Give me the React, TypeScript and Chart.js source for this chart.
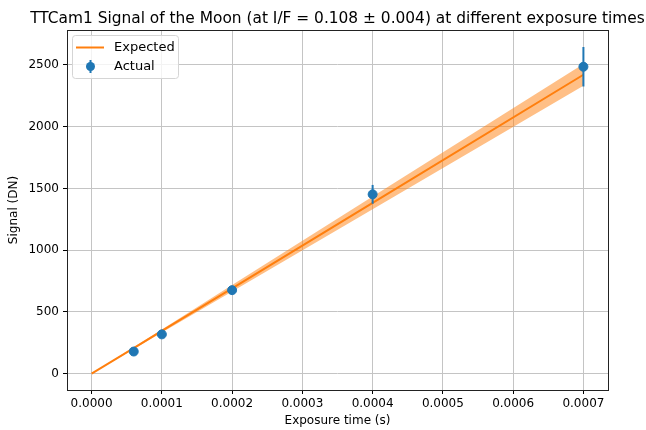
import React, { useEffect, useRef } from "react";
import { Chart, registerables } from "chart.js";

Chart.register(...registerables);

const TITLE = "TTCam1 Signal of the Moon (at I/F = 0.108 ± 0.004) at different exposure times";
const X_LABEL = "Exposure time (s)";
const Y_LABEL = "Signal (DN)";

const actualTimes = [0.00006, 0.0001, 0.0002, 0.0004, 0.0007];
const actualSignal = [179, 318, 676, 1452, 2485];
const actualError = [10, 14, 28, 76, 160];

const expectedTimes = [0, 0.00006, 0.0001, 0.0002, 0.0004, 0.0007];
const expectedSignal = [0, 207, 346, 691, 1383, 2420];
const expectedLower = [0, 200, 333, 666, 1332, 2332];
const expectedUpper = [0, 215, 358, 717, 1434, 2508];

const xTicks = [0, 0.0001, 0.0002, 0.0003, 0.0004, 0.0005, 0.0006, 0.0007];
const yTicks = [0, 500, 1000, 1500, 2000, 2500];

const ORANGE = "#ff7f0e";
const BLUE = "#1f77b4";
const FONT = "DejaVu Sans";

const pts = (xs: number[], ys: number[]) => xs.map((x, i) => ({ x, y: ys[i] }));

const decorPlugin = {
  id: "decor",
  beforeDatasetDraw(chart: any, args: any) {
    if (args.index !== 3) return;
    const { ctx, scales } = chart;
    const xs = scales.x, ys = scales.y;
    ctx.save();
    ctx.strokeStyle = BLUE;
    ctx.lineWidth = 2;
    actualTimes.forEach((t, i) => {
      const px = xs.getPixelForValue(t);
      ctx.beginPath();
      ctx.moveTo(px, ys.getPixelForValue(actualSignal[i] - actualError[i]));
      ctx.lineTo(px, ys.getPixelForValue(actualSignal[i] + actualError[i]));
      ctx.stroke();
    });
    ctx.restore();
  },
  afterDraw(chart: any) {
    const { ctx, chartArea: a } = chart;
    ctx.save();
    // frame
    ctx.strokeStyle = "#222";
    ctx.lineWidth = 1;
    ctx.strokeRect(Math.round(a.left) + 0.5, Math.round(a.top) + 0.5, Math.round(a.right - a.left), Math.round(a.bottom - a.top));
    // title
    ctx.fillStyle = "#000";
    ctx.font = `15.4px "${FONT}"`;
    ctx.textAlign = "center";
    ctx.textBaseline = "middle";
    ctx.fillText(TITLE, (a.left + a.right) / 2, 19);
    // axis labels
    ctx.font = `12px "${FONT}"`;
    ctx.fillText(X_LABEL, (a.left + a.right) / 2, 421);
    ctx.save();
    ctx.translate(14, (a.top + a.bottom) / 2);
    ctx.rotate(-Math.PI / 2);
    ctx.fillText(Y_LABEL, 0, 0);
    ctx.restore();
    // legend
    const lx = a.left + 5, ly = a.top + 5, lw = 106, lh = 43;
    ctx.fillStyle = "rgba(255,255,255,0.8)";
    ctx.strokeStyle = "#d5d5d5";
    ctx.lineWidth = 1;
    ctx.beginPath();
    (ctx as any).roundRect(lx + 0.5, ly + 0.5, lw, lh, 3);
    ctx.fill();
    ctx.stroke();
    ctx.strokeStyle = ORANGE;
    ctx.lineWidth = 2;
    ctx.beginPath();
    ctx.moveTo(lx + 4, ly + 12.5);
    ctx.lineTo(lx + 32, ly + 12.5);
    ctx.stroke();
    ctx.strokeStyle = BLUE;
    ctx.beginPath();
    ctx.moveTo(lx + 18.5, ly + 25);
    ctx.lineTo(lx + 18.5, ly + 38);
    ctx.stroke();
    ctx.fillStyle = BLUE;
    ctx.beginPath();
    ctx.arc(lx + 18.5, ly + 31.5, 4.5, 0, Math.PI * 2);
    ctx.fill();
    ctx.fillStyle = "#000";
    ctx.textAlign = "left";
    ctx.font = `13px "${FONT}"`;
    ctx.fillText("Expected", lx + 42, ly + 12.5);
    ctx.fillText("Actual", lx + 42, ly + 31.5);
    ctx.restore();
  },
};

export default function App() {
  const ref = useRef<HTMLCanvasElement>(null);
  useEffect(() => {
    if (!ref.current) return;
    const chart = new Chart(ref.current, {
      type: "scatter",
      data: {
        datasets: [
          {
            type: "line",
            label: "lower",
            data: pts(expectedTimes, expectedLower),
            borderWidth: 0,
            pointRadius: 0,
            fill: false,
            order: 4,
          },
          {
            type: "line",
            label: "upper",
            data: pts(expectedTimes, expectedUpper),
            borderWidth: 0,
            pointRadius: 0,
            backgroundColor: "rgba(255,127,14,0.5)",
            fill: "-1",
            order: 3,
          },
          {
            type: "line",
            label: "Expected",
            data: pts(expectedTimes, expectedSignal),
            borderColor: ORANGE,
            borderWidth: 2,
            pointRadius: 0,
            fill: false,
            order: 2,
          },
          {
            type: "scatter",
            label: "Actual",
            data: pts(actualTimes, actualSignal),
            backgroundColor: BLUE,
            borderColor: BLUE,
            pointRadius: 4.5,
            order: 1,
          },
        ],
      },
      options: {
        animation: false,
        responsive: false,
        layout: { padding: { top: 30, right: 38, left: 0, bottom: 0 } },
        plugins: { legend: { display: false }, title: { display: false }, tooltip: { enabled: false } },
        scales: {
          x: {
            type: "linear",
            min: -0.000035,
            max: 0.000735,
            afterBuildTicks: (s: any) => { s.ticks = xTicks.map((v) => ({ value: v })); },
            afterFit: (s: any) => { s.height = 40; },
            ticks: {
              color: "#000",
              font: { family: FONT, size: 12 },
              padding: 3,
              maxRotation: 0,
              autoSkip: false,
              callback: (v: any) => Number(v).toFixed(4),
            },
            grid: { color: "#c4c4c4", lineWidth: 1, tickColor: "#000", tickLength: 4 },
            border: { display: false },
          },
          y: {
            type: "linear",
            min: -132.5,
            max: 2782.5,
            afterBuildTicks: (s: any) => { s.ticks = yTicks.map((v) => ({ value: v })); },
            afterFit: (s: any) => { s.width = 67; },
            ticks: {
              color: "#000",
              font: { family: FONT, size: 12 },
              padding: 4,
              autoSkip: false,
              callback: (v: any) => String(v),
            },
            grid: { color: "#c4c4c4", lineWidth: 1, tickColor: "#000", tickLength: 4 },
            border: { display: false },
          },
        },
      },
      plugins: [decorPlugin],
    });
    return () => chart.destroy();
  }, []);
  return (
    <div style={{ position: "fixed", left: 0, top: 0, width: 646, height: 430, background: "#fff" }}>
      <canvas ref={ref} width={646} height={430} style={{ width: 646, height: 430 }} />
    </div>
  );
}
